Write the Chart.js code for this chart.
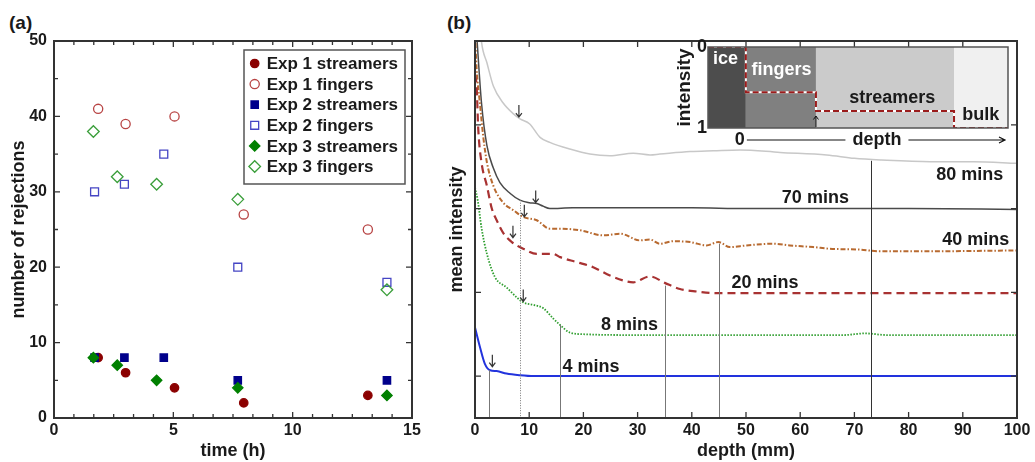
<!DOCTYPE html>
<html>
<head>
<meta charset="utf-8">
<script src="https://cdn.jsdelivr.net/npm/chart.js@4.4.0/dist/chart.umd.min.js"></script>
<style>
  body { margin: 0; background: #fff; width: 1035px; height: 462px; overflow: hidden; position: relative;
         font-family: "Liberation Sans", Arial, sans-serif; }
  canvas { position: absolute; }
  .tag { position: absolute; top: 12px; font-weight: bold; font-size: 19px; color: #1a1a1a; }
</style>
</head>
<body>
<div class="tag" style="left:9px">(a)</div>
<div class="tag" style="left:447px">(b)</div>
<canvas id="chartA" width="440" height="462" style="left:0;top:0"></canvas>
<canvas id="chartB" width="595" height="462" style="left:440px;top:0"></canvas>
<canvas id="inset" width="360" height="125" style="left:660px;top:30px"></canvas>
<script>
// ---- panel (a): rejections vs time ----
const timeTicks = [0, 5, 10, 15];
const countTicks = [0, 10, 20, 30, 40, 50];

const timeExp1 = [1.85, 3.0, 5.05, 7.95, 13.15];
const streamersExp1 = [8, 6, 4, 2, 3];
const fingersExp1 = [41, 39, 40, 27, 25];

const timeExp2 = [1.7, 2.95, 4.6, 7.7, 13.95];
const streamersExp2 = [8, 8, 8, 5, 5];
const fingersExp2 = [30, 31, 35, 20, 18];

const timeExp3 = [1.65, 2.65, 4.3, 7.7, 13.95];
const streamersExp3 = [8, 7, 5, 4, 3];
const fingersExp3 = [38, 32, 31, 29, 17];

// ---- panel (b): mean intensity profiles vs depth ----
const depthTicks = [0, 10, 20, 30, 40, 50, 60, 70, 80, 90, 100];
const levelTicks = [0.5, 1.5, 2.5, 3.5, 4.5];

const depth80 = [0.8, 1.2, 2.2, 3.4, 5.2, 7.1, 8.3, 10.1, 12.0, 13.8, 17.5, 21.2, 24.9, 29.2, 32.3, 34.1, 39.7, 44.0, 48.9, 56.3, 64.9, 70, 75, 84, 92, 100];
const int80 = [4.80, 4.49, 4.24, 3.96, 3.76, 3.63, 3.57, 3.51, 3.35, 3.29, 3.21, 3.15, 3.13, 3.16, 3.14, 3.15, 3.18, 3.19, 3.20, 3.17, 3.14, 3.10, 3.08, 3.06, 3.06, 3.04];

const depth70 = [0, 0.4, 1.2, 2.2, 3.4, 4.6, 6.5, 8.3, 10.0, 11.4, 12.5, 13.8, 18, 26.8, 32, 40, 50, 60, 80, 100];
const int70 = [4.9, 4.49, 3.76, 3.25, 2.98, 2.81, 2.68, 2.60, 2.57, 2.56, 2.53, 2.50, 2.51, 2.51, 2.51, 2.51, 2.50, 2.50, 2.50, 2.49];

const depth40 = [0, 0.3, 0.9, 1.5, 2.2, 3.4, 5.2, 7.1, 8.9, 11.4, 13.8, 15.7, 19.4, 23.7, 26.8, 30.4, 32.3, 34.1, 36.6, 39.7, 42.7, 44.9, 47, 50.1, 55, 58.1, 62.4, 65.5, 71, 74.7, 84, 100];
const int40 = [4.6, 4.17, 3.76, 3.37, 3.05, 2.77, 2.57, 2.48, 2.40, 2.36, 2.26, 2.26, 2.24, 2.18, 2.20, 2.12, 2.13, 2.08, 2.11, 2.10, 2.06, 2.10, 2.04, 2.06, 2.08, 2.06, 2.04, 2.02, 2.01, 1.99, 1.99, 2.00];

const depth20 = [0, 0.3, 0.6, 1.2, 2.2, 3.1, 4.0, 5.2, 6.8, 8.9, 11.4, 14.4, 15.7, 18.8, 21.8, 24.9, 27.4, 29.2, 32.3, 35.1, 37.8, 40.9, 44.6, 60, 80, 100];
const int20 = [4.10, 3.96, 3.45, 3.05, 2.77, 2.50, 2.36, 2.21, 2.10, 2.02, 1.96, 1.96, 1.92, 1.86, 1.80, 1.70, 1.64, 1.62, 1.69, 1.61, 1.54, 1.51, 1.49, 1.49, 1.49, 1.49];

const depth8 = [0, 0.5, 1.2, 2.2, 3.7, 5.8, 7.7, 8.9, 10.8, 12.6, 14.4, 15.7, 17.5, 20, 30, 40, 50, 60, 68, 72, 76, 85, 100];
const int8 = [2.75, 2.60, 2.27, 1.96, 1.68, 1.56, 1.44, 1.38, 1.35, 1.31, 1.19, 1.11, 1.02, 1.00, 0.99, 0.99, 0.99, 0.99, 0.99, 1.01, 0.99, 0.99, 0.99];

const depth4 = [0, 0.9, 1.8, 2.8, 4.0, 5.8, 8.3, 10.8, 100];
const int4 = [1.08, 0.85, 0.65, 0.57, 0.56, 0.53, 0.51, 0.50, 0.50];

const curveLabels = ['80 mins', '70 mins', '40 mins', '20 mins', '8 mins', '4 mins'];
const labelDepth = [91.3, 62.8, 92.4, 53.5, 28.5, 21.4];
const labelLevel = [2.90, 2.62, 2.13, 1.61, 1.11, 0.61];

// transition depths (vertical guides) and arrows
const guideDepth = [2.6, 8.3, 15.6, 35.1, 45.0, 73.0];
const guideTop = [0.57, 2.60, 1.11, 1.58, 2.08, 3.07];
const arrowDepth = [3.2, 8.9, 7.0, 9.1, 11.2, 8.1];
const arrowTip = [0.60, 1.38, 2.14, 2.39, 2.56, 3.58];

// ---- inset: schematic intensity profile ----
const insetZones = ['ice', 'fingers', 'streamers', 'bulk'];
const insetEdges = [-0.54, 0, 1, 2.97, 3.74];
const insetLevel = [0, 0.56, 0.79, 1, 1];
const insetLabelAt = [-0.29, 0.51, 2.09, 3.35];
const insetLabelLevel = [0.15, 0.29, 0.63, 0.84];

Chart.defaults.font.family = '"Liberation Sans", Arial, sans-serif';
Chart.defaults.font.weight = 'bold';
Chart.defaults.color = '#1a1a1a';

const xy = (xs, ys) => xs.map((x, i) => ({x: x, y: ys[i]}));
const F = (size) => ({size: size, weight: 'bold', family: '"Liberation Sans", Arial, sans-serif'});

// inward tick marks on all four sides plus the frame
const frameTicks = {
  id: 'frameTicks',
  afterDraw(chart, args, o) {
    const {ctx, chartArea: a, scales: {x, y}} = chart;
    ctx.save();
    ctx.strokeStyle = '#333';
    ctx.lineWidth = 1.3;
    const vt = (vals, len) => vals.forEach(v => {
      const p = x.getPixelForValue(v);
      ctx.beginPath();
      ctx.moveTo(p, a.bottom); ctx.lineTo(p, a.bottom - len);
      ctx.moveTo(p, a.top); ctx.lineTo(p, a.top + len);
      ctx.stroke();
    });
    const ht = (vals, len) => vals.forEach(v => {
      const p = y.getPixelForValue(v);
      ctx.beginPath();
      ctx.moveTo(a.left, p); ctx.lineTo(a.left + len, p);
      ctx.moveTo(a.right, p); ctx.lineTo(a.right - len, p);
      ctx.stroke();
    });
    vt(o.xMajor, 6); vt(o.xMinor || [], 4);
    ht(o.yMajor, 6); ht(o.yMinor || [], 4);
    ctx.lineWidth = 2;
    ctx.strokeRect(a.left, a.top, a.width, a.height);
    ctx.restore();
  }
};

// boxed legend inside panel (a)
const boxLegend = {
  id: 'boxLegend',
  afterDraw(chart, args, o) {
    const {ctx, chartArea: a} = chart;
    const x0 = a.right - 7 - 161, y0 = a.top + 9;
    ctx.save();
    ctx.fillStyle = '#fff';
    ctx.fillRect(x0, y0, 161, 134);
    ctx.strokeStyle = '#555';
    ctx.lineWidth = 1.5;
    ctx.strokeRect(x0, y0, 161, 134);
    chart.data.datasets.forEach((ds, i) => {
      const cy = y0 + 13.5 + i * 20.6;
      ctx.fillStyle = ds.pointBackgroundColor;
      ctx.strokeStyle = ds.pointBorderColor;
      ctx.lineWidth = ds.pointBorderWidth;
      Chart.helpers.drawPoint(ctx, {pointStyle: ds.pointStyle, radius: ds.pointRadius, rotation: 0,
        borderWidth: ds.pointBorderWidth}, x0 + 10.7, cy);
      ctx.fillStyle = '#1a1a1a';
      ctx.font = 'bold 17px "Liberation Sans", Arial, sans-serif';
      ctx.textBaseline = 'middle';
      ctx.textAlign = 'left';
      ctx.fillText(ds.label, x0 + 22.7, cy + 1);
    });
    ctx.restore();
  }
};

function pts(label, xs, ys, style, fill, stroke, r, order) {
  return {label: label, data: xy(xs, ys), pointStyle: style, pointRadius: r, pointHoverRadius: r,
    pointBackgroundColor: fill, pointBorderColor: stroke, pointBorderWidth: 1.3, showLine: false, order: order};
}

const minorTime = [];
for (let i = 1; i < 18; i++) if (i % 6) minorTime.push(i * 5 / 6);

new Chart(document.getElementById('chartA'), {
  type: 'scatter',
  data: {
    datasets: [
      pts('Exp 1 streamers', timeExp1, streamersExp1, 'circle', '#8b0000', '#8b0000', 4.2, 5),
      pts('Exp 1 fingers', timeExp1, fingersExp1, 'circle', 'rgba(0,0,0,0)', '#b84444', 4.6, 4),
      pts('Exp 2 streamers', timeExp2, streamersExp2, 'rect', '#00008b', '#00008b', 5.2, 3),
      pts('Exp 2 fingers', timeExp2, fingersExp2, 'rect', 'rgba(0,0,0,0)', '#4545c4', 5.6, 2),
      pts('Exp 3 streamers', timeExp3, streamersExp3, 'rectRot', '#008000', '#008000', 5.2, 1),
      pts('Exp 3 fingers', timeExp3, fingersExp3, 'rectRot', 'rgba(0,0,0,0)', '#3a9e3a', 5.8, 0)
    ]
  },
  options: {
    responsive: false,
    animation: false,
    layout: {padding: {left: 0, top: 41, right: 28, bottom: 0}},
    plugins: {
      legend: {display: false},
      tooltip: {enabled: false},
      frameTicks: {xMajor: timeTicks, xMinor: minorTime, yMajor: countTicks, yMinor: [5, 15, 25, 35, 45]}
    },
    scales: {
      x: {
        type: 'linear', min: 0, max: 15,
        afterBuildTicks: s => { s.ticks = timeTicks.map(v => ({value: v})); },
        afterFit: s => { s.height = 44; },
        grid: {display: false, drawTicks: false}, border: {display: false},
        ticks: {font: F(16), padding: 3},
        title: {display: true, text: 'time (h)', font: F(18), padding: {top: 0, bottom: 0}}
      },
      y: {
        type: 'linear', min: 0, max: 50,
        afterBuildTicks: s => { s.ticks = countTicks.map(v => ({value: v})); },
        afterFit: s => { s.width = 54; },
        grid: {display: false, drawTicks: false}, border: {display: false},
        ticks: {font: F(16), padding: 7},
        title: {display: true, text: 'number of rejections', font: F(18), padding: {top: 8, bottom: 0}}
      }
    }
  },
  plugins: [frameTicks, boxLegend]
});

// guides, arrows and curve labels of panel (b)
const profileMarks = {
  id: 'profileMarks',
  afterDatasetsDraw(chart) {
    const {ctx, chartArea: a, scales: {x, y}} = chart;
    ctx.save();
    ctx.beginPath(); ctx.rect(a.left, a.top, a.width, a.height); ctx.clip();
    guideDepth.forEach((d, i) => {
      const p = Math.round(x.getPixelForValue(d)) + 0.5;
      ctx.strokeStyle = i === 5 ? '#333' : '#777';
      ctx.lineWidth = 1;
      ctx.setLineDash(i === 1 ? [1, 1.5] : []);
      ctx.beginPath();
      ctx.moveTo(p, y.getPixelForValue(guideTop[i]));
      ctx.lineTo(p, a.bottom);
      ctx.stroke();
    });
    ctx.setLineDash([]);
    ctx.strokeStyle = '#333';
    ctx.lineWidth = 1.2;
    arrowDepth.forEach((d, i) => {
      const p = x.getPixelForValue(d), tip = y.getPixelForValue(arrowTip[i]) - 1;
      ctx.beginPath();
      ctx.moveTo(p, tip - 12); ctx.lineTo(p, tip);
      ctx.moveTo(p - 3, tip - 4); ctx.lineTo(p, tip); ctx.lineTo(p + 3, tip - 4);
      ctx.stroke();
    });
    ctx.fillStyle = '#1a1a1a';
    ctx.font = 'bold 18px "Liberation Sans", Arial, sans-serif';
    ctx.textAlign = 'center';
    ctx.textBaseline = 'middle';
    curveLabels.forEach((t, i) => ctx.fillText(t, x.getPixelForValue(labelDepth[i]), y.getPixelForValue(labelLevel[i])));
    ctx.restore();
  }
};

function curve(label, xs, ys, color, width, dash) {
  return {label: label, data: xy(xs, ys), borderColor: color, borderWidth: width, borderDash: dash,
    pointRadius: 0, fill: false, cubicInterpolationMode: 'monotone', borderCapStyle: 'butt'};
}

new Chart(document.getElementById('chartB'), {
  type: 'line',
  data: {
    datasets: [
      curve('4 mins', depth4, int4, '#2233dd', 2, []),
      curve('8 mins', depth8, int8, '#2f9e2f', 1.8, [1.5, 1.5]),
      curve('20 mins', depth20, int20, '#a83232', 2.2, [8, 5]),
      curve('40 mins', depth40, int40, '#b86a30', 2, [5, 2, 1.5, 2]),
      curve('70 mins', depth70, int70, '#4a4a4a', 1.5, []),
      curve('80 mins', depth80, int80, '#c8c8c8', 1.5, [])
    ]
  },
  options: {
    responsive: false,
    animation: false,
    layout: {padding: {left: 0, top: 41, right: 18, bottom: 0}},
    plugins: {
      legend: {display: false},
      tooltip: {enabled: false},
      frameTicks: {xMajor: depthTicks, yMajor: levelTicks}
    },
    scales: {
      x: {
        type: 'linear', min: 0, max: 100,
        afterBuildTicks: s => { s.ticks = depthTicks.map(v => ({value: v})); },
        afterFit: s => { s.height = 44; },
        grid: {display: false, drawTicks: false}, border: {display: false},
        ticks: {font: F(16), padding: 3},
        title: {display: true, text: 'depth (mm)', font: F(18), padding: {top: 0, bottom: 0}}
      },
      y: {
        type: 'linear', min: 0, max: 4.5,
        afterFit: s => { s.width = 35; },
        grid: {display: false, drawTicks: false}, border: {display: false},
        ticks: {display: false},
        title: {display: true, text: 'mean intensity', font: F(18), padding: {top: 6, bottom: 0}}
      }
    }
  },
  plugins: [profileMarks, frameTicks]
});

// inset zones, labels and depth arrow
const insetZonesPlugin = {
  id: 'insetZones',
  beforeDatasetsDraw(chart) {
    const {ctx, chartArea: a, scales: {x}} = chart;
    const shades = ['#4d4d4d', '#808080', '#cbcbcb', '#f0f0f0'];
    ctx.save();
    insetZones.forEach((z, i) => {
      const l = x.getPixelForValue(insetEdges[i]), r = x.getPixelForValue(insetEdges[i + 1]);
      ctx.fillStyle = shades[i];
      ctx.fillRect(l, a.top, r - l, a.height);
    });
    ctx.restore();
  },
  afterDraw(chart) {
    const {ctx, chartArea: a, scales: {x, y}} = chart;
    ctx.save();
    ctx.strokeStyle = '#555';
    ctx.lineWidth = 1.5;
    ctx.strokeRect(a.left, a.top, a.width, a.height);
    ctx.font = 'bold 18px "Liberation Sans", Arial, sans-serif';
    ctx.textAlign = 'center';
    ctx.textBaseline = 'middle';
    insetZones.forEach((z, i) => {
      ctx.fillStyle = i < 2 ? '#fff' : '#1a1a1a';
      ctx.fillText(z, x.getPixelForValue(insetLabelAt[i]), y.getPixelForValue(insetLabelLevel[i]));
    });
    // small arrow at the fingers/streamers boundary
    const bx = x.getPixelForValue(insetEdges[2]);
    ctx.strokeStyle = '#111';
    ctx.lineWidth = 1;
    ctx.beginPath();
    ctx.moveTo(bx, a.bottom - 1); ctx.lineTo(bx, a.bottom - 12);
    ctx.moveTo(bx - 2.5, a.bottom - 8.5); ctx.lineTo(bx, a.bottom - 12); ctx.lineTo(bx + 2.5, a.bottom - 8.5);
    ctx.stroke();
    // depth axis below the inset
    const x0 = x.getPixelForValue(0), ay = a.bottom + 12;
    ctx.fillStyle = '#1a1a1a';
    ctx.textAlign = 'right';
    ctx.fillText('0', x0 - 1, ay);
    ctx.textAlign = 'center';
    const mid = (x0 + a.right) / 2;
    ctx.fillText('depth', mid, ay);
    const half = ctx.measureText('depth').width / 2 + 7;
    ctx.lineWidth = 1.2;
    ctx.beginPath();
    ctx.moveTo(x0 + 1, ay); ctx.lineTo(mid - half, ay);
    ctx.moveTo(mid + half, ay); ctx.lineTo(a.right - 3, ay);
    ctx.moveTo(a.right - 9, ay - 3); ctx.lineTo(a.right - 3, ay); ctx.lineTo(a.right - 9, ay + 3);
    ctx.stroke();
    ctx.restore();
  }
};

new Chart(document.getElementById('inset'), {
  type: 'line',
  data: {
    datasets: [
      {data: xy(insetEdges, insetLevel), stepped: true, borderColor: '#ffffff', borderWidth: 2, pointRadius: 0, order: 1},
      {data: xy(insetEdges, insetLevel), stepped: true, borderColor: '#9b1c1c', borderWidth: 2, borderDash: [6, 3], pointRadius: 0, order: 0}
    ]
  },
  options: {
    responsive: false,
    animation: false,
    layout: {padding: {left: 0, top: 17, right: 12, bottom: 27}},
    plugins: {legend: {display: false}, tooltip: {enabled: false}},
    scales: {
      x: {type: 'linear', min: insetEdges[0], max: insetEdges[4], display: false},
      y: {
        type: 'linear', min: 0, max: 1, reverse: true,
        afterBuildTicks: s => { s.ticks = [{value: 0}, {value: 1}]; },
        afterFit: s => { s.width = 48; },
        grid: {display: false, drawTicks: false}, border: {display: false},
        ticks: {font: F(18), padding: 1},
        title: {display: true, text: 'intensity', font: F(19), padding: {top: 13, bottom: 0}}
      }
    }
  },
  plugins: [insetZonesPlugin]
});
</script>
</body>
</html>
